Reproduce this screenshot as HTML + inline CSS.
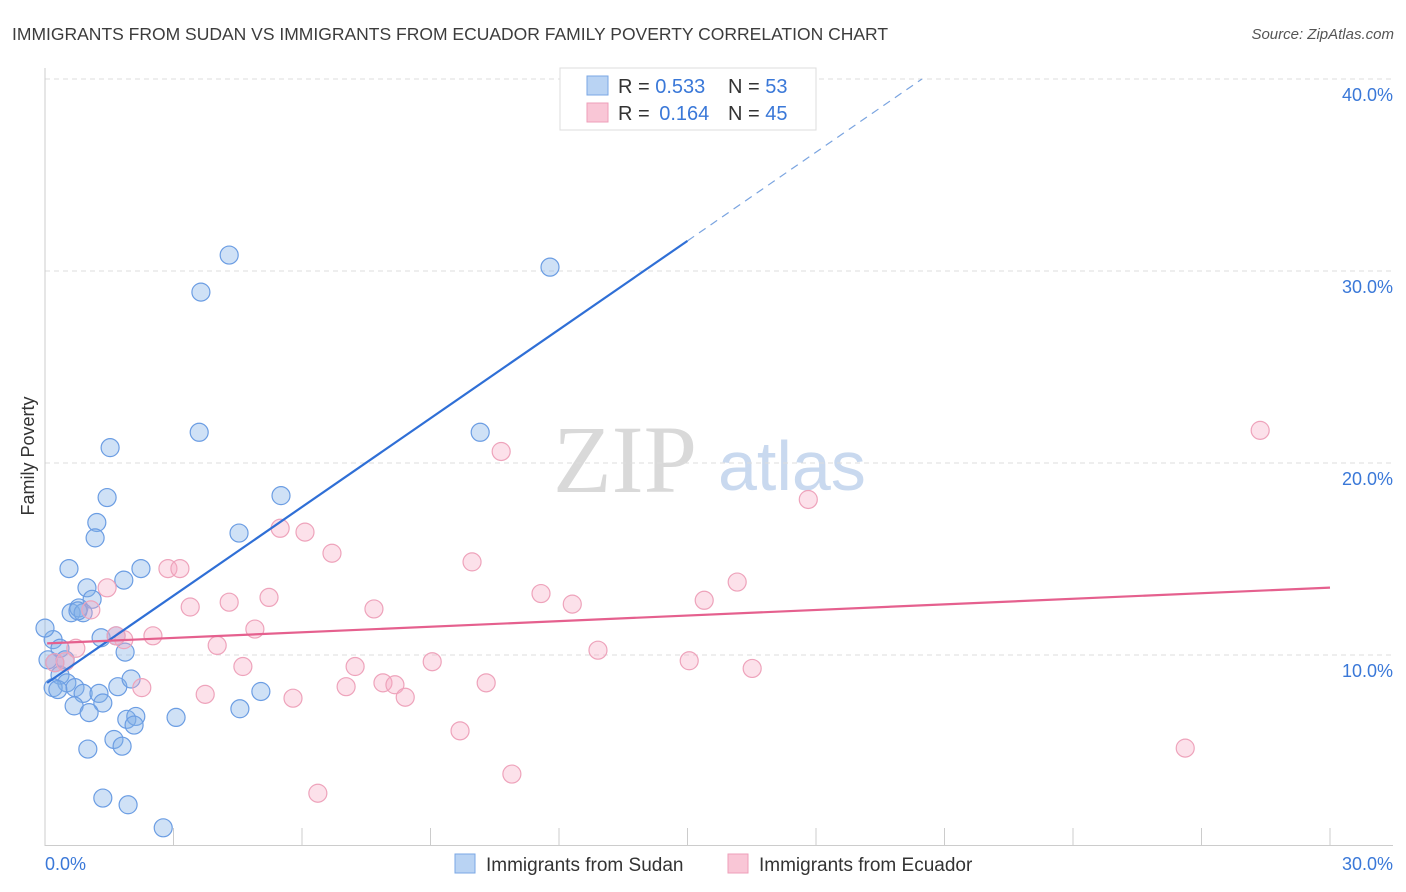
<!DOCTYPE html>
<html><head><meta charset="utf-8"><style>
body{margin:0;background:#fff;width:1406px;height:892px;overflow:hidden;font-family:"Liberation Sans",sans-serif}
svg{display:block}
</style></head><body>
<svg id="chart" width="1406" height="892" xmlns="http://www.w3.org/2000/svg">
<text x="12" y="40" font-size="17.5" fill="#3c3c3c">IMMIGRANTS FROM SUDAN VS IMMIGRANTS FROM ECUADOR FAMILY POVERTY CORRELATION CHART</text>
<text x="1394" y="39" font-size="15" fill="#555" font-style="italic" text-anchor="end">Source: ZipAtlas.com</text>
<g>
<text x="553" y="492" font-family="Liberation Serif,serif" font-size="96" fill="#d9d9d9">ZIP</text>
<text x="718" y="490" font-size="70" fill="#c9d9ef">atlas</text>
</g>
<g id="grid"></g>
<g id="axes"></g>
<g id="marks"></g>
<text transform="translate(34,456) rotate(-90)" font-size="18" fill="#333" text-anchor="middle">Family Poverty</text>
<g>
<rect x="560" y="68" width="256" height="62" fill="#fff" stroke="#ddd"/>
<rect x="587" y="76" width="21" height="19" fill="#b9d3f3" stroke="#7aa7e4"/>
<rect x="587" y="103" width="21" height="19" fill="#f9c6d6" stroke="#ee9fb9"/>
<text x="618" y="93" font-size="20" fill="#333">R = <tspan fill="#3a78d8">0.533</tspan><tspan x="728">N = </tspan><tspan fill="#3a78d8">53</tspan></text>
<text x="618" y="120" font-size="20" fill="#333">R = <tspan fill="#3a78d8" dx="4">0.164</tspan><tspan x="728">N = </tspan><tspan fill="#3a78d8">45</tspan></text>
</g>
<g>
<rect x="455" y="854" width="20" height="19" fill="#b9d3f3" stroke="#7aa7e4"/>
<text x="486" y="871" font-size="19" fill="#333">Immigrants from Sudan</text>
<rect x="728" y="854" width="20" height="19" fill="#f9c6d6" stroke="#ee9fb9"/>
<text x="759" y="871" font-size="19" fill="#333">Immigrants from Ecuador</text>
</g>
</svg>
<script>
const sudanX=[4.30,3.64,11.79,3.60,1.52,10.16,1.45,5.51,1.21,1.17,4.53,0.56,2.24,1.84,0.98,1.10,0.61,0.79,0.89,0.77,1.31,1.66,1.87,0.19,0.35,0.0,0.23,0.47,0.35,0.51,0.19,0.70,0.89,1.26,1.35,0.68,1.03,1.70,2.01,5.04,4.55,3.06,1.91,2.12,2.08,1.61,1.80,1.0,1.35,1.94,2.76,0.07,0.30];
const sudanY=[30.83,28.9,30.2,21.6,20.8,21.6,18.2,18.3,16.9,16.1,16.35,14.5,14.5,13.9,13.5,12.9,12.2,12.45,12.2,12.3,10.9,11.0,10.15,10.8,10.35,11.4,9.6,9.75,8.95,8.55,8.3,8.3,8.0,8.0,7.5,7.35,7.0,8.35,8.75,8.1,7.2,6.75,6.65,6.8,6.35,5.6,5.25,5.1,2.55,2.2,1.0,9.75,8.2];
const ecuadorX=[28.37,10.65,17.82,5.49,6.07,6.70,9.97,2.87,3.15,16.16,1.45,11.58,5.23,4.30,12.31,15.39,3.39,7.68,1.07,4.90,2.52,1.84,1.66,4.02,0.72,12.91,9.04,15.04,7.24,4.62,16.51,0.47,0.23,7.89,8.17,10.30,7.03,2.26,8.41,3.74,5.79,9.69,26.62,10.90,6.37];
const ecuadorY=[21.7,20.6,18.1,16.6,16.4,15.3,14.85,14.5,14.5,13.8,13.5,13.2,13.0,12.75,12.65,12.85,12.5,12.4,12.35,11.35,11.0,10.8,11.0,10.5,10.35,10.25,9.65,9.7,9.4,9.4,9.3,9.65,9.6,8.55,8.45,8.55,8.35,8.3,7.8,7.95,7.75,6.05,5.15,3.8,2.8];
const sudanTrend=[8.47,1.54];   // intercept, slope
const ecuadorTrend=[10.6,0.097];
const yTicks=[10,20,30,40];
const yTickLabels=["10.0%","20.0%","30.0%","40.0%"];
const xTicks=[3,6,9,12,15,18,21,24,27,30];

const NS="http://www.w3.org/2000/svg";
const sx=v=>45+v*1285/30, sy=v=>847-v*19.2;
function mk(t,a,p){const e=document.createElementNS(NS,t);for(const k in a)e.setAttribute(k,a[k]);p.appendChild(e);return e;}
const grid=document.getElementById('grid'),axes=document.getElementById('axes'),marks=document.getElementById('marks');
yTicks.forEach((t,i)=>{
  const l=mk('line',{x1:45,x2:1393,y1:sy(t),y2:sy(t),stroke:'#ddd','stroke-dasharray':'5,4'},grid);
  
  
  const tx=mk('text',{x:1393,y:sy(t)+22,'font-size':18,fill:'#3a78d8','text-anchor':'end'},axes);
  tx.textContent=yTickLabels[i];
  
  
});
const ya=mk('line',{x1:45,x2:45,y1:68,y2:846,stroke:'#ccc'},axes);


const xa=mk('line',{x1:45,x2:1393,y1:845.5,y2:845.5,stroke:'#ccc'},axes);


xTicks.forEach(t=>{
  const l=mk('line',{x1:sx(t),x2:sx(t),y1:828,y2:846,stroke:'#ccc'},axes);
  
  
});
const x0=mk('text',{x:45,y:870,'font-size':18,fill:'#3a78d8'},axes);x0.textContent='0.0%';


const x1=mk('text',{x:1393,y:870,'font-size':18,fill:'#3a78d8','text-anchor':'end'},axes);x1.textContent='30.0%';



sudanX.forEach((v,i)=>{
  const c=mk('circle',{cx:sx(v),cy:sy(sudanY[i]),r:9,fill:'rgba(130,175,232,0.38)',stroke:'#6b9de3','stroke-width':1.2},marks);
  
  
});
ecuadorX.forEach((v,i)=>{
  const c=mk('circle',{cx:sx(v),cy:sy(ecuadorY[i]),r:9,fill:'rgba(245,170,195,0.35)',stroke:'#eea3bb','stroke-width':1.2},marks);
  
  
});
const fb=x=>sudanTrend[0]+sudanTrend[1]*x, fe=x=>ecuadorTrend[0]+ecuadorTrend[1]*x;
const xEnd=(40-sudanTrend[0])/sudanTrend[1];
const t1=mk('line',{x1:sx(0.05),y1:sy(fb(0.05)),x2:sx(15),y2:sy(fb(15)),stroke:'#2f6fd6','stroke-width':2.2},marks);


const t2=mk('line',{x1:sx(15),y1:sy(fb(15)),x2:sx(xEnd),y2:sy(40),stroke:'#7aa4e0','stroke-width':1.2,'stroke-dasharray':'8,6'},marks);


const t3=mk('line',{x1:sx(0.05),y1:sy(fe(0.05)),x2:sx(30),y2:sy(fe(30)),stroke:'#e5608e','stroke-width':2.2},marks);


</script>
</body></html>
